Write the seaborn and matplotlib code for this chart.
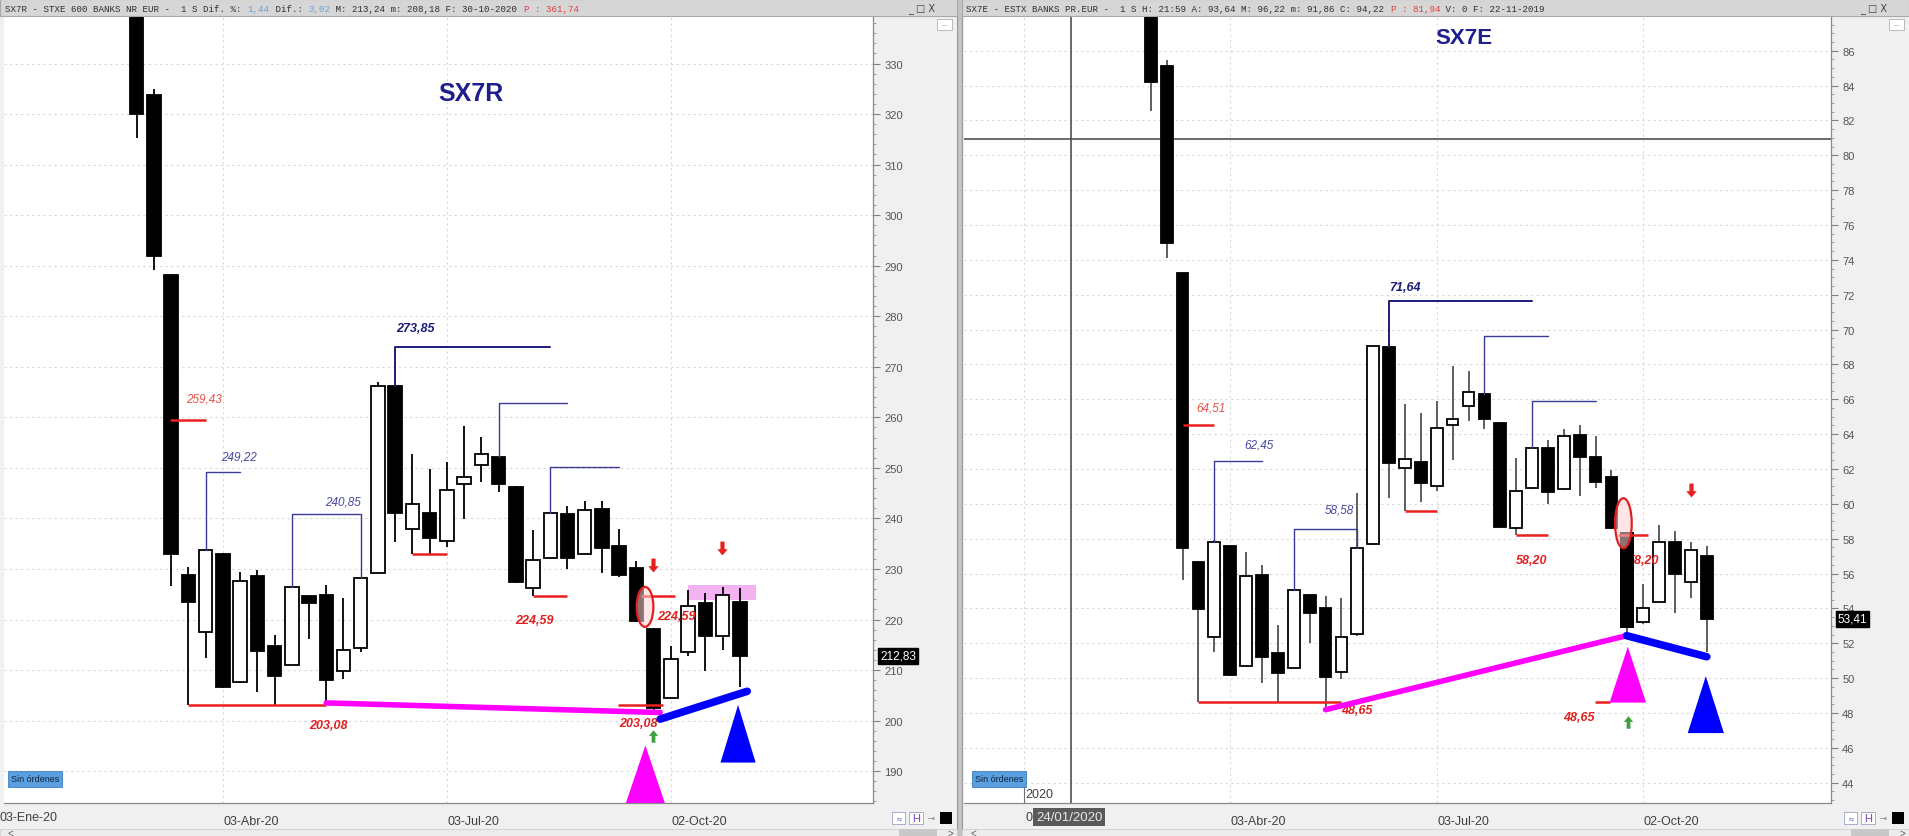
import numpy as np
import pandas as pd
import matplotlib
matplotlib.use("Agg")
import matplotlib.pyplot as plt
import seaborn as sns
from matplotlib.patches import Rectangle, Ellipse, Polygon
from matplotlib.path import Path
from matplotlib.ticker import MultipleLocator
from matplotlib.transforms import ScaledTranslation

# ------------------------------------------------------------------ data
week_dates = pd.date_range("2020-02-28", "2020-10-30", freq="7D")   # weekly candles
base_date = pd.Timestamp("2020-01-03")
tick_dates = ["2020-01-03", "2020-04-03", "2020-07-03", "2020-10-02"]
tick_labels = ["03-Ene-20", "03-Abr-20", "03-Jul-20", "02-Oct-20"]

# SX7R  (STXE 600 BANKS NR EUR)
sx7r_open = [350.0, 323.8, 288.1, 228.9, 217.5, 233.0, 207.7, 228.6, 214.7, 211.1, 224.6, 224.8,
             209.8, 214.3, 229.2, 266.2, 238.0, 241.1, 235.6, 246.9, 250.5, 252.1, 246.3, 226.3,
             232.2, 240.8, 233.0, 241.8, 234.5, 230.1, 218.2, 204.4, 213.5, 223.2, 216.8, 223.4]
sx7r_high = [352.0, 325.0, 288.3, 230.4, 234.0, 233.2, 229.4, 229.8, 217.0, 226.6, 224.7, 226.9,
             224.3, 228.4, 266.9, 266.3, 252.8, 249.7, 251.2, 258.3, 256.1, 252.2, 246.4, 237.7,
             241.1, 242.4, 243.4, 243.5, 238.0, 231.5, 218.3, 214.7, 225.9, 225.3, 226.5, 226.3]
sx7r_low = [315.2, 289.2, 226.6, 203.1, 212.4, 206.4, 207.5, 205.7, 203.1, 211.0, 216.2, 203.1,
            208.3, 213.6, 229.1, 235.4, 232.9, 232.9, 234.4, 239.9, 247.3, 245.2, 227.2, 224.6,
            232.1, 229.9, 232.9, 229.2, 228.5, 219.6, 201.7, 204.3, 212.7, 209.8, 213.9, 206.7]
sx7r_close = [320.1, 292.0, 233.0, 223.5, 233.7, 206.6, 227.6, 213.7, 208.9, 226.4, 223.3, 208.1,
              213.9, 228.3, 266.2, 241.1, 242.9, 236.2, 245.7, 248.2, 252.8, 246.9, 227.4, 231.7,
              241.0, 232.1, 241.6, 234.2, 228.9, 219.7, 202.5, 212.2, 222.6, 216.7, 224.8, 212.83]

# SX7E  (ESTX BANKS PR.EUR)
sx7e_open = [90.0, 85.14, 73.23, 56.65, 52.38, 57.60, 50.72, 55.92, 51.45, 50.56, 54.77, 54.03,
             50.37, 52.53, 57.70, 68.98, 62.04, 62.38, 61.00, 64.53, 65.60, 66.31, 64.64, 58.60,
             60.89, 63.19, 60.85, 63.95, 62.71, 61.52, 58.31, 53.24, 54.39, 57.83, 55.50, 57.03]
sx7e_high = [91.0, 85.48, 73.25, 56.70, 57.90, 57.65, 57.22, 56.49, 53.07, 55.10, 54.80, 54.73,
             54.60, 60.60, 69.08, 69.00, 65.73, 65.20, 65.92, 67.93, 67.61, 66.35, 64.65, 62.61,
             63.20, 63.67, 64.30, 64.53, 63.88, 61.96, 58.35, 55.40, 58.79, 58.43, 57.80, 57.60]
sx7e_low = [82.52, 74.09, 55.63, 48.65, 51.48, 50.15, 50.70, 49.70, 48.65, 50.50, 52.02, 48.19,
            49.95, 52.40, 57.65, 60.34, 59.60, 60.10, 60.76, 62.52, 64.77, 64.30, 58.65, 58.20,
            60.85, 59.99, 60.80, 60.47, 60.89, 58.55, 52.53, 53.10, 54.35, 53.72, 54.58, 51.50]
sx7e_close = [84.19, 74.95, 57.47, 53.97, 57.80, 50.20, 55.88, 51.23, 50.30, 55.06, 53.72, 50.05,
              52.38, 57.45, 69.04, 62.35, 62.57, 61.20, 64.34, 64.87, 66.40, 64.87, 58.69, 60.76,
              63.19, 60.70, 63.91, 62.67, 61.27, 58.60, 52.95, 54.02, 57.83, 56.00, 57.37, 53.41]

# resistance brackets: (from week, to week, level, closed at end)
sx7r_brackets = [(12, 14, 249.22, False), (17, 21, 240.85, True), (23, 32, 273.85, False),
                 (29, 33, 262.90, False), (32, 36, 250.20, False)]
sx7e_brackets = [(12, 15, 62.45, False), (17, 21, 58.58, True), (23, 32, 71.64, False),
                 (29, 33, 69.61, False), (32, 36, 65.92, False)]
# support lines: (from week, to week, level)
sx7r_supports = [(9.93, 12.0, 259.43), (11, 19, 203.08), (24, 26, 232.9), (31, 33, 224.59),
                 (37.25, 39.26, 224.59), (35.94, 38.56, 203.08)]
sx7e_supports = [(10.0, 12.0, 64.51), (11, 20, 48.65), (24, 26, 59.6), (31, 33, 58.20),
                 (37.4, 39.3, 58.20), (35.97, 36.9, 48.65)]
# value labels: (week, value, text, kind, alignment)
sx7r_labels = [(11.9, 263.8, "259,43", "lred", "center"), (13.94, 252.3, "249,22", "lblue", "center"),
               (19.97, 243.4, "240,85", "lblue", "center"), (24.17, 277.6, "273,85", "navy", "center"),
               (31.1, 220.0, "224,59", "red", "center"), (19.1, 199.2, "203,08", "red", "center"),
               (39.3, 220.7, "224,59", "red", "center"), (37.1, 199.6, "203,08", "red", "center")]
sx7e_labels = [(11.8, 65.55, "64,51", "lred", "center"), (14.8, 63.43, "62,45", "lblue", "center"),
               (19.9, 59.68, "58,58", "lblue", "center"), (24.0, 72.43, "71,64", "navy", "center"),
               (32.0, 56.76, "58,20", "red", "center"), (20.95, 48.15, "48,65", "red", "center"),
               (40.0, 56.8, "58,20", "red", "right"), (34.96, 47.75, "48,65", "red", "center")]
# trend lines (week, value)
sx7r_pink_line = ([19, 38.38], [203.5, 201.6])
sx7r_blue_line = ([38.38, 43.43], [200.3, 205.8])
sx7e_pink_line = ([19, 37.95], [48.19, 52.44])
sx7e_blue_line = ([37.95, 43.0], [52.44, 51.23])
# signal triangles (apex week, apex value, base value, half width in weeks)
sx7r_triangles = [(37.52, 195.1, 183.0, 1.2, "#ff00ff"), (42.9, 203.1, 191.7, 1.02, "#0000ff")]
sx7e_triangles = [(38.03, 51.81, 48.6, 1.15, "#ff00ff"), (42.94, 50.12, 46.85, 1.14, "#0000ff")]
# arrows (week, value, direction)
sx7r_arrows = [(37.97, 230.7, "down"), (41.98, 234.1, "down"), (37.97, 197.0, "up")]
sx7e_arrows = [(42.0, 60.8, "down"), (38.06, 47.5, "up")]
# ellipses (week, value, width weeks, height value)
sx7r_ellipse = (37.5, 222.5, 0.97, 7.9)
sx7e_ellipse = (37.75, 58.89, 1.05, 2.87)
sx7r_box = (40.0, 223.8, 3.93, 3.0)
crosshair_e = (2.97, 80.93)

# ------------------------------------------------------------------ layout
W, H = 1909, 837
sns.set_style("white")
plt.rcParams["font.family"] = ["Liberation Sans", "DejaVu Sans"]

fig = plt.figure(figsize=(W / 100, H / 100), dpi=100, facecolor="#f0f0f0")


def rect(x0, y0, x1, y1):
    return [x0 / W, 1 - y1 / H, (x1 - x0) / W, (y1 - y0) / H]


def fpatch(x0, y0, x1, y1, fc, ec="none", lw=0.8, z=1):
    fig.add_artist(Rectangle((x0 / W, 1 - y1 / H), (x1 - x0) / W, (y1 - y0) / H,
                             transform=fig.transFigure, facecolor=fc, edgecolor=ec,
                             linewidth=lw, zorder=z))


def ftext(x, y, s, **kw):
    fig.text(x / W, 1 - y / H, s, **kw)


weeks = [(d - base_date).days / 7 for d in week_dates]
tick_weeks = [(pd.Timestamp(d) - base_date).days / 7 for d in tick_dates]

label_style = {
    "lred": dict(color="#e8504a", fontstyle="italic", fontsize=8.5),
    "lblue": dict(color="#4848a0", fontstyle="italic", fontsize=8.5),
    "navy": dict(color="#1c1c78", fontstyle="italic", fontweight="bold", fontsize=9),
    "red": dict(color="#e02020", fontstyle="italic", fontweight="bold", fontsize=9),
}

up_arrow = Path([(-0.3, -1), (0.3, -1), (0.3, 0.1), (0.75, 0.1), (0, 1), (-0.75, 0.1), (-0.3, 0.1), (-0.3, -1)],
                [Path.MOVETO] + [Path.LINETO] * 6 + [Path.CLOSEPOLY])
down_arrow = Path([(-0.3, 1), (0.3, 1), (0.3, -0.1), (0.75, -0.1), (0, -1), (-0.75, -0.1), (-0.3, -0.1), (-0.3, 1)],
                  [Path.MOVETO] + [Path.LINETO] * 6 + [Path.CLOSEPOLY])


def candle_bodies(ax, xs, o, c, width, z):
    colors = ["white" if cc >= oo else "black" for oo, cc in zip(o, c)]
    ax.bar(xs, np.abs(np.asarray(c) - np.asarray(o)), width, bottom=np.minimum(o, c), color=colors,
           edgecolor="black", linewidth=1.3, zorder=z)


def make_panel(px, xlim, ylim, major, minor, o, h, l, c, width, wick,
               brackets, supports, labels, pink, blue, triangles, arrows, ell, title, title_pos,
               title_size, last_label, ticks, ticklabels):
    ax = fig.add_axes(rect(*px))
    ax.set_facecolor("white")
    ax.set_xlim(*xlim)
    ax.set_ylim(*ylim)
    ax.yaxis.tick_right()
    ax.yaxis.set_major_locator(MultipleLocator(major))
    ax.yaxis.set_minor_locator(MultipleLocator(minor))
    ax.yaxis.set_major_formatter(matplotlib.ticker.FuncFormatter(lambda v, p: f"{v:g}"))
    ax.tick_params(axis="y", which="major", direction="out", length=5, width=0.8, color="#808080",
                   labelsize=8, labelcolor="#555555", pad=3, right=True, left=False)
    ax.tick_params(axis="y", which="minor", direction="out", length=2.5, width=0.6, color="#909090",
                   right=True, left=False)
    ax.set_xticks(ticks)
    ax.set_xticklabels(ticklabels)
    ax.tick_params(axis="x", direction="out", length=9, width=0.8, color="#808080",
                   labelsize=9, labelcolor="#404040", pad=0)
    for lb in ax.get_xticklabels():
        lb.set_ha("left")
        lb.set_transform(lb.get_transform() + ScaledTranslation(0.3 / 72, 0, fig.dpi_scale_trans))
    for s in ["left", "top"]:
        ax.spines[s].set_visible(False)
    for s in ["right", "bottom"]:
        ax.spines[s].set_color("#8a8a8a")
        ax.spines[s].set_linewidth(0.9)
    ax.grid(True, which="major", axis="both", color="#d8d8d8", linestyle=(0, (2, 3)), linewidth=0.8)
    ax.set_axisbelow(True)

    # candles
    o, h, l, c = map(np.asarray, (o, h, l, c))
    ax.vlines(weeks, l, h, color=wick, lw=1.3, zorder=3)
    candle_bodies(ax, weeks, o, c, width, 4)

    body_top = {w: max(oo, cc) for w, oo, cc in zip(weeks, o, c)}
    for ws, we, lvl, closed in brackets:
        xs = [ws, ws, we]
        ys = [body_top[ws], lvl, lvl]
        if closed:
            xs.append(we)
            ys.append(body_top[we])
        bold = lvl == max(b[2] for b in brackets)
        ax.plot(xs, ys, color="#1c1c78" if bold else "#3c3c98", lw=1.4 if bold else 1.0, zorder=5)
    for ws, we, lvl in supports:
        ax.plot([ws, we], [lvl, lvl], color="#e82020", lw=1.8, zorder=5, solid_capstyle="butt")
    for wx, vy, s, kind, ha in labels:
        z = 4.5 if ha == "right" else 6
        ax.text(wx, vy, s, ha=ha, va="center", zorder=z, **label_style[kind])
        if ha == "right":
            # the label runs under the candle just left of it
            i = int(np.argmin(np.abs(np.asarray(weeks) - (wx - 2))))
            candle_bodies(ax, [weeks[i]], [o[i]], [c[i]], width, 4.6)

    # ellipse mark
    ax.add_patch(Ellipse((ell[0], ell[1]), ell[2], ell[3], facecolor=(1, 0.82, 0.82, 0.55),
                         edgecolor="#e02020", lw=1.6, zorder=6))

    sns.lineplot(x=pink[0], y=pink[1], ax=ax, color="#ff00ff", linewidth=4, zorder=7,
                 solid_capstyle="round")
    sns.lineplot(x=blue[0], y=blue[1], ax=ax, color="#0000ff", linewidth=5.5, zorder=7,
                 solid_capstyle="round")
    for tw, tv, bv, hw, col in triangles:
        ax.add_patch(Polygon([(tw, tv), (tw - hw, bv), (tw + hw, bv)], closed=True,
                             facecolor=col, edgecolor="none", zorder=7))
    for aw, av, d in arrows:
        col = "#e82020" if d == "down" else "#40a040"
        ax.plot([aw], [av], marker=down_arrow if d == "down" else up_arrow, markersize=10 if d == "down" else 9,
                color=col, markeredgewidth=0, zorder=8)
    ax.text(title_pos[0], title_pos[1], title, ha="center", va="center", color="#1e1e8c",
            fontsize=title_size, fontweight="bold", zorder=8)
    # last price tag on the axis
    ax.annotate(last_label, xy=(1.0, c[-1]), xycoords=("axes fraction", "data"),
                xytext=(5, 0), textcoords="offset points", ha="left", va="center",
                fontsize=8.5, color="white", zorder=9, annotation_clip=False,
                bbox=dict(boxstyle="square,pad=0.15", facecolor="black", edgecolor="black"))
    return ax


axL = make_panel((4, 17, 873, 804), (0.298, 50.73), (183.7, 339.4), 10, 2,
                 sx7r_open, sx7r_high, sx7r_low, sx7r_close, 0.78, "black",
                 sx7r_brackets, sx7r_supports, sx7r_labels, sx7r_pink_line, sx7r_blue_line,
                 sx7r_triangles, sx7r_arrows, sx7r_ellipse, "SX7R", (27.4, 324.2), 18, "212,83",
                 tick_weeks[1:], tick_labels[1:])
axL.add_patch(Rectangle((sx7r_box[0], sx7r_box[1]), sx7r_box[2], sx7r_box[3],
                        facecolor="#f0a0f0", alpha=0.8, edgecolor="none", zorder=2))

axR = make_panel((964, 17, 1831, 804), (-3.76, 50.82), (42.84, 87.99), 2, 0.5,
                 sx7e_open, sx7e_high, sx7e_low, sx7e_close, 0.74, "#505050",
                 sx7e_brackets, sx7e_supports, sx7e_labels, sx7e_pink_line, sx7e_blue_line,
                 sx7e_triangles, sx7e_arrows, sx7e_ellipse, "SX7E", (27.7, 86.73), 16, "53,41",
                 tick_weeks[1:], tick_labels[1:])
# first date tick of SX7E window (its label sits under the crosshair date tag)
axR.axvline(tick_weeks[0], color="#d8d8d8", linestyle=(0, (2, 3)), lw=0.8, zorder=0)
axR.plot([tick_weeks[0]] * 2, [42.84, 43.9], color="#707070", lw=0.8, zorder=3)
# crosshair on the SX7E window
axR.axhline(crosshair_e[1], color="#505050", lw=1.2, zorder=2)
axR.axvline(crosshair_e[0], color="#505050", lw=1.2, zorder=2)
axR.text(0.1, 43.35, "2020", ha="left", va="center", fontsize=9, color="#404040", zorder=3)

# ------------------------------------------------------------------ window chrome
fpatch(957, 0, 962, H, "#c4c4c4", "#9a9a9a", 0.8, z=9)
for x0, x1 in [(0, 957), (962, W)]:
    fpatch(x0, 0, x1, 17, "#d6d6d6", "#a8a8a8", 0.8, z=10)
    fpatch(x0, 830, x1, H, "#ececec", "#d0d0d0", 0.6, z=9)
    ftext(x0 + 8, 834, "<", fontsize=7, color="#606060", va="center", zorder=11)
    ftext(x1 - 10, 834, ">", fontsize=7, color="#606060", va="center", zorder=11)
    fpatch(x1 - 58, 830, x1 - 20, H, "#c8c8c8", z=10)
    ftext(x1 - 22, 9, "_ \u25a1 X", fontsize=7, color="#404040", ha="right", va="center",
          family="DejaVu Sans", zorder=11)
    fpatch(x1 - 20, 20, x1 - 5, 31, "white", "#b0b0b0", 0.6, z=10)
    ftext(x1 - 12.5, 24, "...", fontsize=6, color="#808080", ha="center", va="center", zorder=11)
    fpatch(x1 - 65, 813, x1 - 52, 825, "white", "#a0a0c0", 0.6, z=10)
    ftext(x1 - 58.5, 819, "\u2248", fontsize=6, color="#6080c0", ha="center", va="center",
          family="DejaVu Sans", zorder=11)
    fpatch(x1 - 48, 813, x1 - 34, 825, "white", "#a0a0c0", 0.6, z=10)
    ftext(x1 - 41, 819, "H", fontsize=8, color="#8040c0", ha="center", va="center", zorder=11)
    ftext(x1 - 26, 819, "\u22b8", fontsize=6, color="#707070", ha="center", va="center",
          family="DejaVu Sans", zorder=11)
    fpatch(x1 - 17, 813, x1 - 5, 825, "black", z=10)

mono = dict(family="Liberation Mono", fontsize=6.62, va="center", zorder=12)
cw = 0.6 * 6.62 * 100 / 72


def header(x0, parts):
    x = x0
    for s, col in parts:
        ftext(x, 9, s, color=col, **mono)
        x += len(s) * cw


header(5, [("SX7R - STXE 600 BANKS NR EUR -  1 S Dif. %: ", "#303030"), ("1,44", "#6aa0d8"),
           (" Dif.: ", "#303030"), ("3,02", "#6aa0d8"),
           (" M: 213,24 m: 208,18 F: 30-10-2020 ", "#303030"), ("P : 361,74", "#e04040")])
header(966, [("SX7E - ESTX BANKS PR.EUR -  1 S H: 21:59 A: 93,64 M: 96,22 m: 91,86 C: 94,22 ", "#303030"),
             ("P : 81,94", "#e04040"), (" V: 0 F: 22-11-2019", "#303030")])

for x in [11, 975]:
    ftext(x, 780, "Sin órdenes", fontsize=6.5, color="#10243c", va="center", zorder=12,
          bbox=dict(boxstyle="square,pad=0.35", facecolor="#5a9fe0", edgecolor="#3f7fc0", lw=0.6))

# first date label of each window
ftext(0, 818, tick_labels[0], fontsize=9, color="#404040", va="center", zorder=8)
ftext(1025, 818, tick_labels[0][:1], fontsize=9, color="#404040", va="center", zorder=8)
ftext(1036, 818, "24/01/2020", fontsize=9.5, color="#e8e8e8", va="center", zorder=12,
      bbox=dict(boxstyle="square,pad=0.2", facecolor="#5a5a5a", edgecolor="none"))

fig.savefig("out.png", dpi=100, facecolor=fig.get_facecolor())
